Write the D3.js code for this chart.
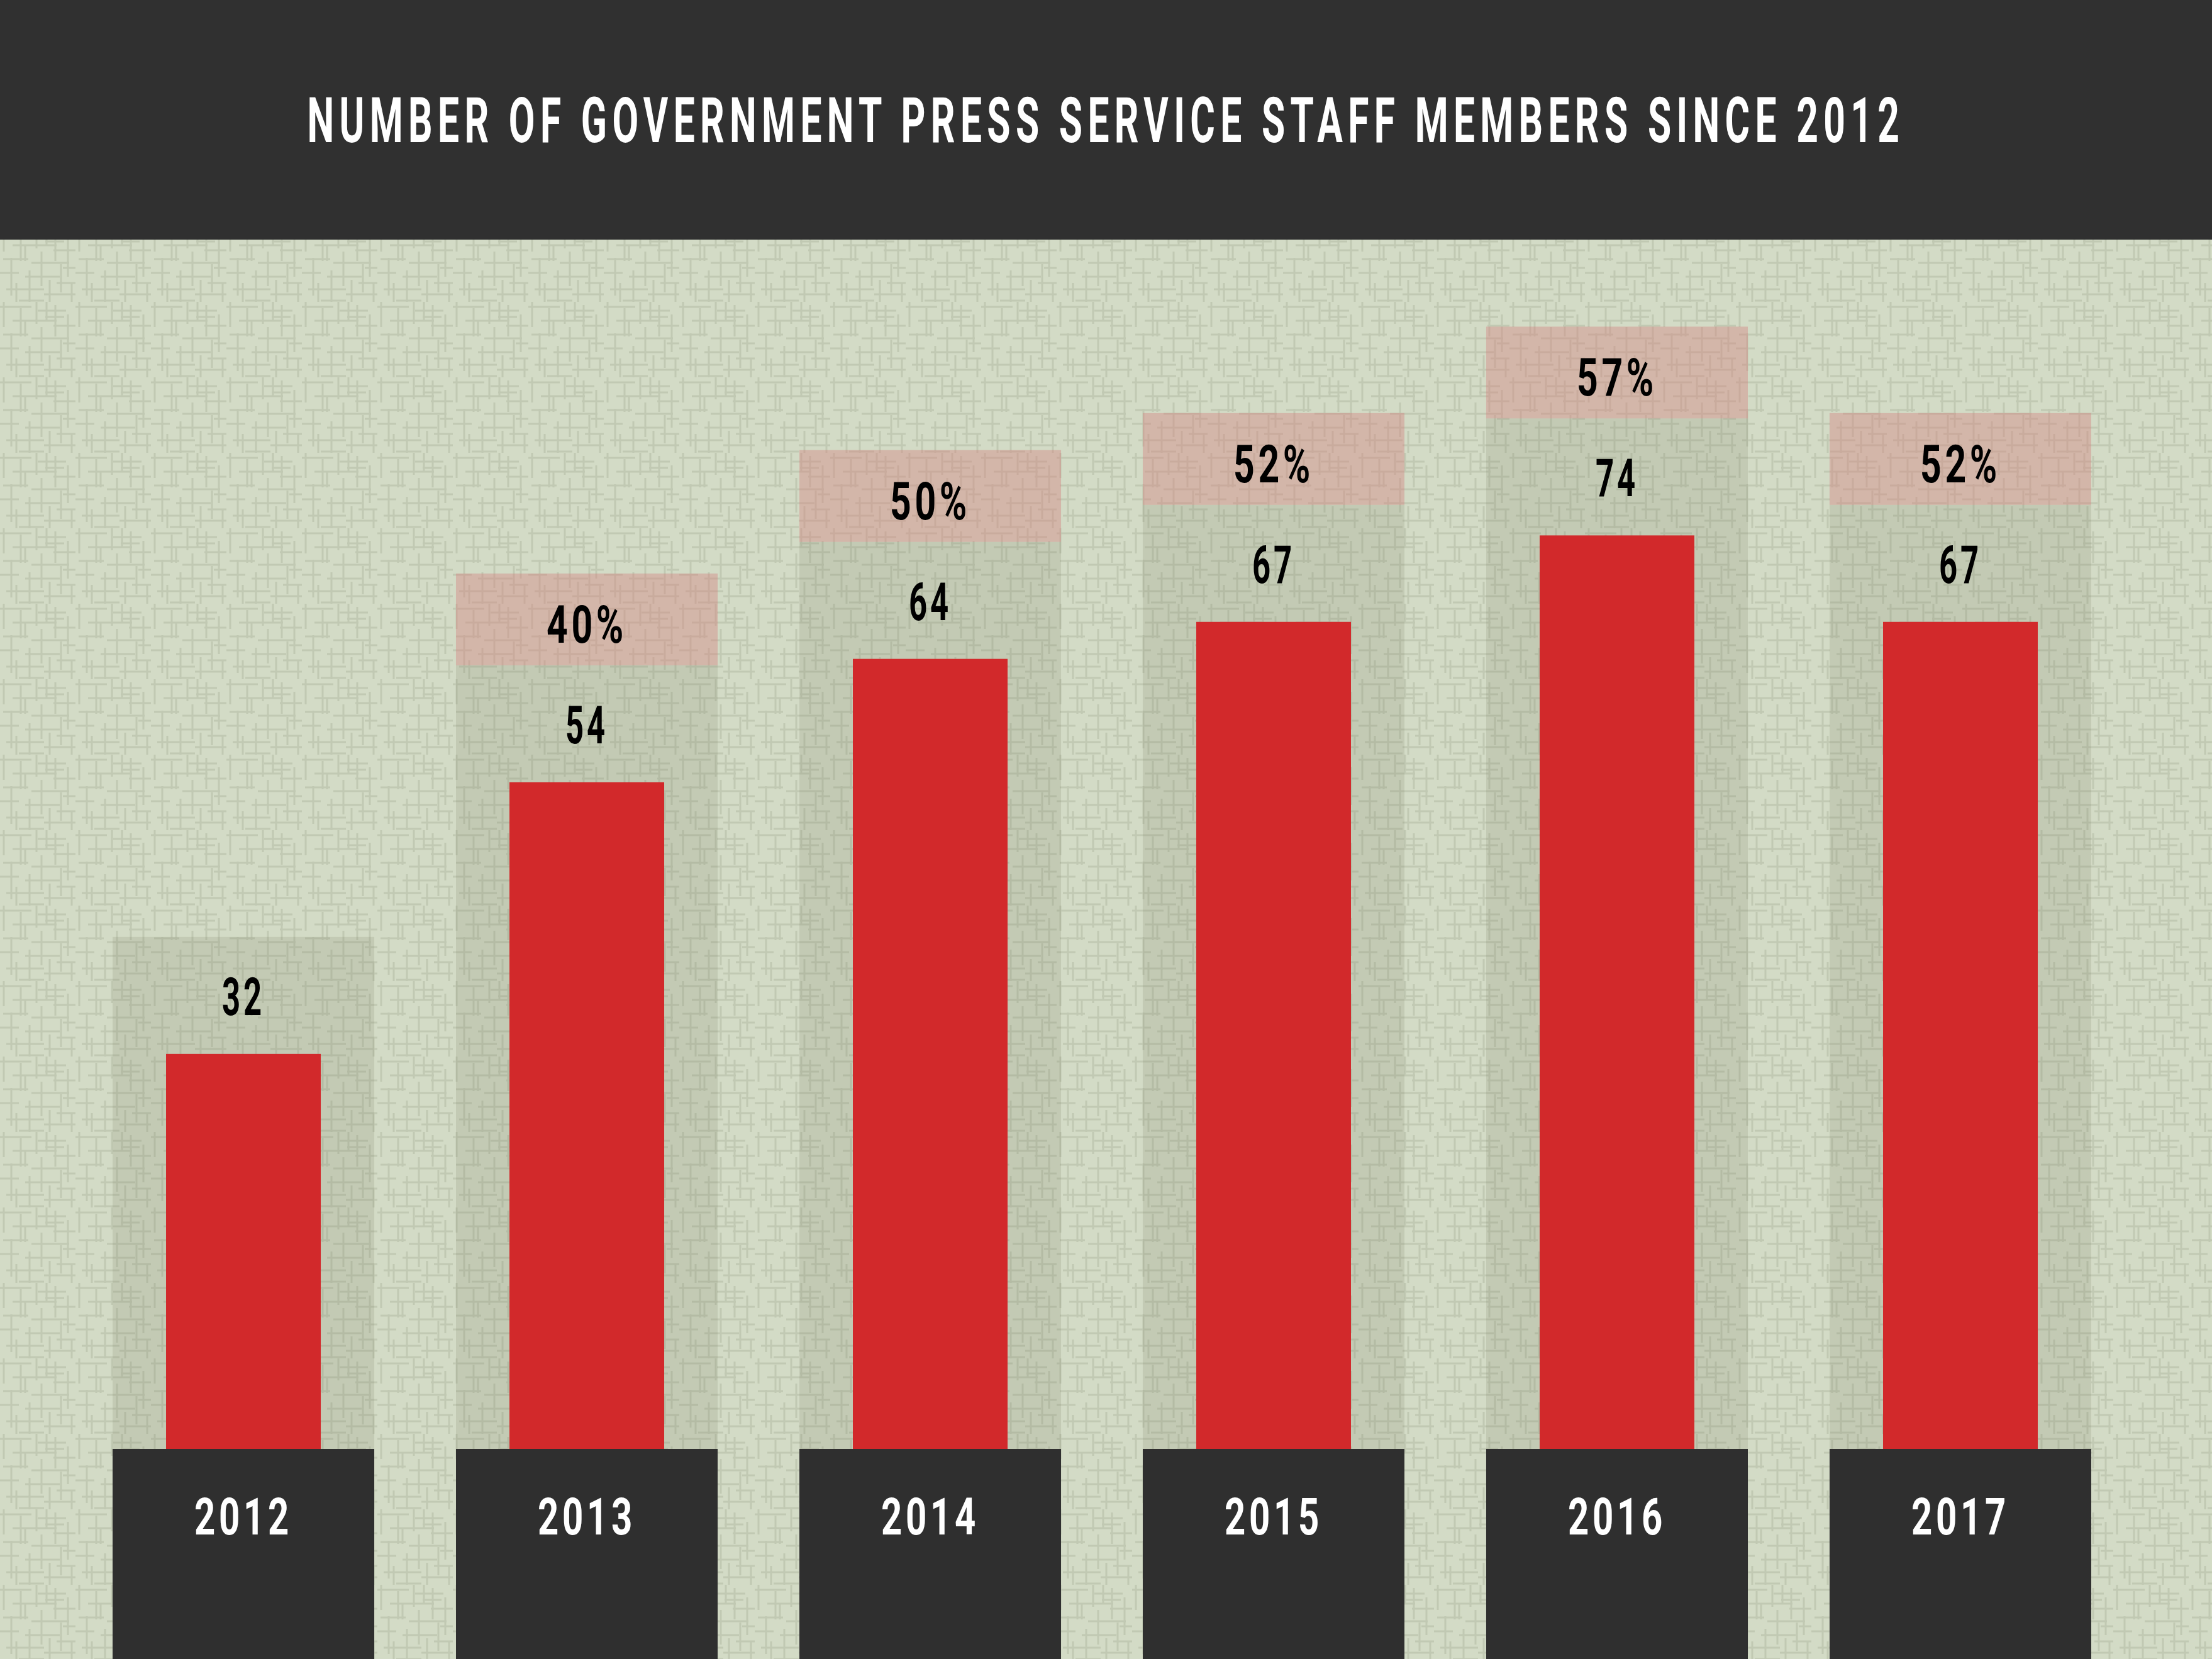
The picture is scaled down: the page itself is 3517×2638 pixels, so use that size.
<!DOCTYPE html>
<html>
<head>
<meta charset="utf-8">
<script src="https://cdn.jsdelivr.net/npm/d3@7"></script>
<style>
  html, body { margin: 0; padding: 0; background: #d3dbc6; }
  svg { display: block; }
</style>
</head>
<body>
<svg id="chart"></svg>
<script>
// Chart data
var years = ["2012", "2013", "2014", "2015", "2016", "2017"];
var staff = [32, 54, 64, 67, 74, 67];
var shares = [null, 40, 50, 52, 57, 52];
var title = "NUMBER OF GOVERNMENT PRESS SERVICE STAFF MEMBERS SINCE 2012";

var W = 3517, H = 2638;
var headerH = 381;
var base = 2304;

var svg = d3.select("#chart").attr("width", W).attr("height", H);

// Background texture (fixed crosshatch tile)
var hSegs = [[0,8,50],[60,14,45],[20,30,70],[85,38,35],[5,52,40],[50,58,60],[0,74,30],
             [40,80,55],[90,90,30],[10,100,60],[70,108,50],[30,118,40],[100,66,20],[72,24,30]];
var vSegs = [[6,0,40],[18,50,60],[33,10,45],[47,70,50],[58,0,35],[66,40,55],[79,85,35],
             [88,5,50],[97,60,45],[108,20,60],[114,90,30],[26,90,30],[40,30,25],[74,0,30]];

var defs = svg.append("defs");
var pat = defs.append("pattern")
    .attr("id", "weave")
    .attr("patternUnits", "userSpaceOnUse")
    .attr("width", 120).attr("height", 120);
pat.append("rect").attr("width", 120).attr("height", 120).attr("fill", "#d3dbc6");
pat.selectAll("line.h").data(hSegs).enter().append("line")
    .attr("x1", d => d[0]).attr("x2", d => d[0] + d[2])
    .attr("y1", d => d[1]).attr("y2", d => d[1])
    .attr("stroke", "#c1c9b3").attr("stroke-width", 3);
pat.selectAll("line.v").data(vSegs).enter().append("line")
    .attr("x1", d => d[0]).attr("x2", d => d[0])
    .attr("y1", d => d[1]).attr("y2", d => d[1] + d[2])
    .attr("stroke", "#c1c9b3").attr("stroke-width", 3);

svg.append("rect").attr("width", W).attr("height", H).attr("fill", "url(#weave)");

// Header
svg.append("rect").attr("width", W).attr("height", headerH).attr("fill", "#303030");
var titleG = svg.append("g");
var titleT = titleG.append("text")
    .attr("x", 0).attr("y", 0)
    .attr("text-anchor", "middle")
    .attr("font-family", "Roboto, 'DejaVu Sans', sans-serif")
    .attr("font-weight", 700)
    .attr("font-size", 101)
    .attr("letter-spacing", 14)
    .attr("fill", "#ffffff")
    .text(title);
// squeeze the title to the condensed width of the reference
var natural = titleT.node().getComputedTextLength();
titleG.attr("transform", "translate(" + (W / 2) + ",226) scale(" + (2540 / natural) + ",1)");

// Scales
var x = d3.scaleBand()
    .domain(years)
    .range([179, 179 + 6 * 546 - 130])
    .paddingInner(0.238)
    .paddingOuter(0);

var y = d3.scaleLinear().domain([0, 100]).range([base, 341]);

var barW = 246;
var gap = 186;     // shaded space above each bar
var pinkH = 146;

var rows = years.map((yr, i) => ({ year: yr, value: staff[i], share: shares[i] }));

var col = svg.selectAll("g.col").data(rows).enter().append("g").attr("class", "col");

// Shaded column
col.append("rect")
    .attr("x", d => x(d.year))
    .attr("y", d => y(d.value) - gap)
    .attr("width", x.bandwidth())
    .attr("height", d => base - y(d.value) + gap)
    .attr("fill", "rgba(120,130,100,0.18)");

// Percentage box
col.filter(d => d.share != null).append("rect")
    .attr("x", d => x(d.year))
    .attr("y", d => y(d.value) - gap - pinkH)
    .attr("width", x.bandwidth())
    .attr("height", pinkH)
    .attr("fill", "rgba(213,128,125,0.4)");

// Red bar
col.append("rect")
    .attr("x", d => x(d.year) + (x.bandwidth() - barW) / 2)
    .attr("y", d => y(d.value))
    .attr("width", barW)
    .attr("height", d => base - y(d.value))
    .attr("fill", "#d2292b");

// Year box
col.append("rect")
    .attr("x", d => x(d.year))
    .attr("y", base)
    .attr("width", x.bandwidth())
    .attr("height", H - base)
    .attr("fill", "#2f2f2f");

function label(sel, len) {
  return sel.attr("text-anchor", "middle")
      .attr("font-family", "Roboto, 'DejaVu Sans', sans-serif")
      .attr("font-weight", 700)
      .attr("font-size", 84)
      .attr("letter-spacing", 8)
      .attr("textLength", len)
      .attr("lengthAdjust", "spacingAndGlyphs");
}

// Value labels
label(col.append("text"), d => String(d.value).length * 34)
    .attr("x", d => x(d.year) + x.bandwidth() / 2)
    .attr("y", d => y(d.value) - 62)
    .attr("fill", "#000000")
    .text(d => d.value);

// Percent labels
label(col.filter(d => d.share != null).append("text"), 128)
    .attr("x", d => x(d.year) + x.bandwidth() / 2)
    .attr("y", d => y(d.value) - gap - pinkH + 110)
    .attr("fill", "#000000")
    .text(d => d.share + "%");

// Year labels
label(col.append("text"), 156)
    .attr("x", d => x(d.year) + x.bandwidth() / 2)
    .attr("y", 2440)
    .attr("font-size", 82)
    .attr("fill", "#ffffff")
    .text(d => d.year);
</script>
</body>
</html>
